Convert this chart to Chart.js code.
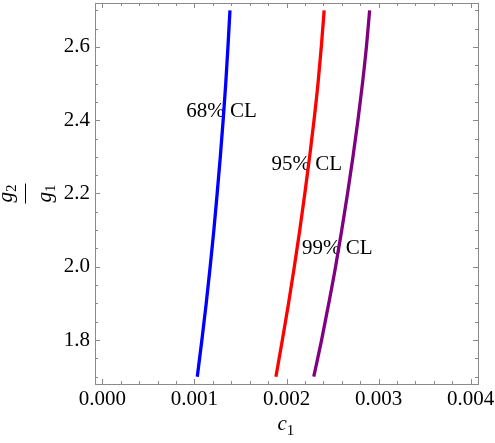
<!DOCTYPE html>
<html>
<head>
<meta charset="utf-8">
<script src="https://cdn.jsdelivr.net/npm/chart.js@4/dist/chart.umd.min.js"></script>
<style>
  html, body { margin: 0; padding: 0; background: #fff; }
  canvas { display: block; }
</style>
</head>
<body>
<canvas id="chart" width="495" height="443"></canvas>
<script>
    "use strict";

    // g2/g1 values along each contour
    const gRatio = [1.7, 1.8, 1.9, 2.0, 2.1, 2.2, 2.3, 2.4, 2.5, 2.6, 2.7];
    // c1
    const c1At68 = [0.001031, 0.001081, 0.001128, 0.001171, 0.001211, 0.001247, 0.001281, 0.001312, 0.001340, 0.001364, 0.001386];
    const c1At95 = [0.001885, 0.001955, 0.002022, 0.002085, 0.002144, 0.002199, 0.002251, 0.002299, 0.002342, 0.002378, 0.002409];
    const c1At99 = [0.002296, 0.002381, 0.002459, 0.002533, 0.002600, 0.002663, 0.002722, 0.002776, 0.002825, 0.002868, 0.002903];

    const seriesNames = ['68% CL', '95% CL', '99% CL'];
    const seriesColors = ['#0000ff', '#ff0000', '#800080'];
    // where the contour labels sit (data coords)
    const labelC1 = [0.001294, 0.002221, 0.002551];
    const labelG = [2.423, 2.280, 2.051];

    // axis ticks
    const xMajor = [0, 0.001, 0.002, 0.003, 0.004];
    const xMinor = [0.0002, 0.0004, 0.0006, 0.0008, 0.0012, 0.0014, 0.0016, 0.0018,
        0.0022, 0.0024, 0.0026, 0.0028, 0.0032, 0.0034, 0.0036, 0.0038];
    const yMajor = [1.8, 2.0, 2.2, 2.4, 2.6];
    const yMinor = [1.7, 1.75, 1.85, 1.9, 1.95, 2.05, 2.1, 2.15, 2.25, 2.3, 2.35, 2.45, 2.5, 2.55, 2.65, 2.7];

    const serif = "'Liberation Serif', 'Times New Roman', serif";

    const toPoints = (xs) => xs.map((x, i) => ({x: x, y: gRatio[i]}));

    const frameTicks = {
        id: 'frameTicks',
        beforeDatasetsDraw: function (chart) {
            const ctx = chart.ctx,
                xs = chart.scales.x,
                ys = chart.scales.y;
            ctx.save();
            ctx.font = "21px " + serif;
            ctx.fillStyle = "#000";
            ctx.textAlign = "center";
            ctx.textBaseline = "middle";
            seriesNames.forEach((name, i) => {
                ctx.fillText(name, xs.getPixelForValue(labelC1[i]), ys.getPixelForValue(labelG[i]));
            });
            ctx.restore();
        },
        afterDraw: function (chart) {
            const ctx = chart.ctx,
                a = chart.chartArea,
                xs = chart.scales.x,
                ys = chart.scales.y;
            ctx.save();
            ctx.strokeStyle = "#8a8a8a";
            ctx.lineWidth = 1;
            ctx.strokeRect(Math.round(a.left) + 0.5, Math.round(a.top) + 0.5,
                Math.round(a.right - a.left), Math.round(a.bottom - a.top));

            const tickX = (v, len) => {
                const p = Math.round(xs.getPixelForValue(v)) + 0.5;
                ctx.moveTo(p, a.bottom); ctx.lineTo(p, a.bottom - len);
                ctx.moveTo(p, a.top); ctx.lineTo(p, a.top + len);
            };
            const tickY = (v, len) => {
                const p = Math.round(ys.getPixelForValue(v)) + 0.5;
                ctx.moveTo(a.left, p); ctx.lineTo(a.left + len, p);
                ctx.moveTo(a.right, p); ctx.lineTo(a.right - len, p);
            };
            ctx.beginPath();
            xMajor.forEach(v => tickX(v, 5));
            xMinor.forEach(v => tickX(v, 3));
            yMajor.forEach(v => tickY(v, 5));
            yMinor.forEach(v => tickY(v, 3));
            ctx.stroke();

            // x title: c_1
            ctx.fillStyle = "#000";
            ctx.textBaseline = "alphabetic";
            ctx.textAlign = "left";
            const cx = (a.left + a.right) / 2 - 9;
            ctx.font = "italic 21px " + serif;
            ctx.fillText("c", cx, 430);
            const cw = ctx.measureText("c").width;
            ctx.font = "15px " + serif;
            ctx.fillText("1", cx + cw, 435);

            // y title: g_2 / g_1, rotated
            ctx.translate(25, (a.top + a.bottom) / 2);
            ctx.rotate(-Math.PI / 2);
            const frac = (y) => {
                ctx.font = "italic 21px " + serif;
                const gw = ctx.measureText("g").width;
                ctx.font = "15px " + serif;
                const sw = ctx.measureText("2").width;
                const x0 = -(gw + sw) / 2;
                ctx.font = "italic 21px " + serif;
                ctx.fillText("g", x0, y);
                return {x: x0 + gw, sw: sw};
            };
            let s = frac(-13);
            ctx.font = "15px " + serif;
            ctx.fillText("2", s.x, -9);
            s = frac(26);
            ctx.font = "15px " + serif;
            ctx.fillText("1", s.x, 30);
            ctx.strokeStyle = "#000";
            ctx.lineWidth = 1;
            ctx.beginPath();
            ctx.moveTo(-10, 0.5);
            ctx.lineTo(10, 0.5);
            ctx.stroke();
            ctx.restore();
        }
    };

    new Chart(document.getElementById('chart').getContext('2d'), {
        type: 'scatter',
        data: {
            datasets: [c1At68, c1At95, c1At99].map((xs, i) => ({
                label: seriesNames[i],
                data: toPoints(xs),
                showLine: true,
                borderColor: seriesColors[i],
                backgroundColor: seriesColors[i],
                borderWidth: 3.3,
                borderCapStyle: 'butt',
                pointRadius: 0,
                cubicInterpolationMode: 'monotone',
                fill: false,
            }))
        },
        plugins: [frameTicks],
        options: {
            responsive: false,
            animation: false,
            layout: {padding: {top: 3, right: 17, left: 0, bottom: 0}},
            plugins: {
                legend: {display: false},
                tooltip: {enabled: false},
            },
            scales: {
                x: {
                    type: 'linear',
                    min: -0.00008,
                    max: 0.00408,
                    afterBuildTicks: (scale) => { scale.ticks = xMajor.map(v => ({value: v})); },
                    afterFit: (scale) => {
                        scale.height = 59;
                        scale.paddingLeft = 0;
                        scale.paddingRight = 0;
                    },
                    grid: {display: false, drawTicks: false},
                    border: {display: false},
                    ticks: {
                        autoSkip: false,
                        maxRotation: 0,
                        padding: 3,
                        color: '#000',
                        font: {family: serif, size: 21},
                        callback: (v) => v.toFixed(3),
                    },
                },
                y: {
                    type: 'linear',
                    min: 1.68,
                    max: 2.72,
                    afterBuildTicks: (scale) => { scale.ticks = yMajor.map(v => ({value: v})); },
                    afterFit: (scale) => {
                        scale.width = 95;
                        scale.paddingTop = 0;
                        scale.paddingBottom = 0;
                    },
                    grid: {display: false, drawTicks: false},
                    border: {display: false},
                    ticks: {
                        padding: 5,
                        color: '#000',
                        font: {family: serif, size: 21},
                        callback: (v) => v.toFixed(1),
                    },
                },
            },
        },
    });
</script>
</body>
</html>
